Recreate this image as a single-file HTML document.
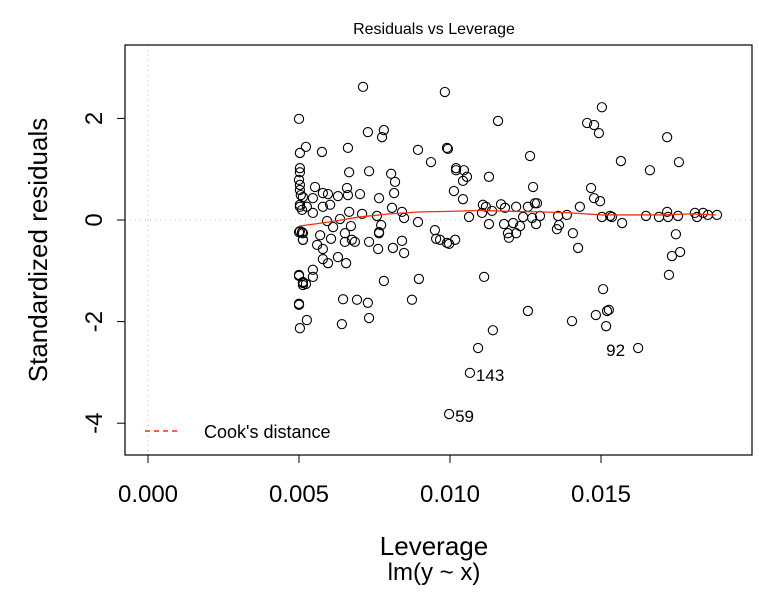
<!DOCTYPE html>
<html><head><meta charset="utf-8"><style>
body{margin:0;background:#fff;}
svg{display:block;font-family:"Liberation Sans",sans-serif;}
</style></head><body>
<svg id="chart" width="759" height="592" viewBox="0 0 759 592">
<text x="434" y="34" text-anchor="middle" font-size="16">Residuals vs Leverage</text>
<text transform="translate(47,250) rotate(-90)" text-anchor="middle" font-size="26">Standardized residuals</text>
<text x="434" y="555" text-anchor="middle" font-size="26">Leverage</text>
<text x="434" y="580" text-anchor="middle" font-size="24">lm(y ~ x)</text>
<g id="grid"></g><g id="axes"></g><g id="marks"></g>
<g>
<line x1="145" y1="431" x2="180" y2="431" stroke="#f03010" stroke-width="1.5" stroke-dasharray="5,4"/>
<text x="204" y="438" font-size="18">Cook's distance</text>
</g>
<rect x="125" y="45" width="627" height="410" fill="none" stroke="#000" stroke-width="1.2"/>
</svg>
<script>
// leverage in thousandths (x 1e-3)
const leverage=[5.00,5.03,5.03,5.03,5.03,5.06,5.03,5.10,5.03,5.10,5.13,5.00,5.00,5.03,5.13,5.23,
7.12,9.83,7.28,7.81,7.75,5.23,5.76,6.62,8.94,9.90,9.37,6.66,7.32,8.05,8.18,5.00,5.53,6.59,7.02,8.15,7.65,5.79,5.96,6.29,6.62,5.46,5.03,5.13,5.03,5.26,5.79,6.03,5.46,6.66,7.09,7.58,8.08,8.41,8.48,5.93,6.36,6.13,6.72,7.72,8.94,9.50,9.90,5.00,5.13,5.13,5.70,6.06,6.52,6.52,6.75,6.85,7.32,7.65,7.65,7.62,8.11,8.41,8.48,5.60,5.79,5.79,5.96,6.29,6.56,9.54,5.00,5.46,5.46,5.13,5.13,7.81,8.97,6.46,6.92,7.28,8.74,5.00,5.26,6.42,7.32,
11.59,15.03,14.54,14.77,14.93,9.93,12.65,10.20,10.20,10.46,10.56,10.43,11.29,12.75,10.13,10.43,14.67,14.77,14.97,11.09,11.19,11.69,11.82,12.19,12.58,12.81,12.88,14.30,10.63,11.06,11.39,11.29,11.79,12.09,12.42,12.72,12.98,12.85,12.32,13.58,13.87,13.61,13.54,14.07,14.24,15.03,11.92,12.19,11.95,9.67,9.97,10.17,11.13,15.07,12.58,14.04,14.83,15.20,15.17,11.42,
17.19,15.66,16.62,17.58,15.30,15.36,15.70,16.49,16.92,17.19,17.22,17.55,18.11,18.18,18.38,18.54,18.84,17.48,17.35,17.62,17.25,15.26,
10.93,10.66,9.97,16.23];
const residuals=[1.99,1.32,1.02,0.94,0.69,0.49,0.30,0.20,-0.22,-0.24,-0.39,-1.10,-1.65,-2.13,-1.24,-1.26,
2.62,2.52,1.73,1.77,1.63,1.44,1.34,1.42,1.38,1.42,1.14,0.94,0.96,0.91,0.75,0.79,0.65,0.63,0.51,0.53,0.43,0.53,0.51,0.47,0.49,0.43,0.59,0.45,0.26,0.26,0.26,0.30,0.14,0.16,0.12,0.08,0.24,0.16,0.04,-0.02,0.02,-0.14,-0.12,-0.10,-0.04,-0.20,-0.45,-0.24,-0.26,-0.39,-0.30,-0.37,-0.26,-0.43,-0.39,-0.43,-0.43,-0.24,-0.26,-0.57,-0.55,-0.41,-0.65,-0.49,-0.57,-0.77,-0.85,-0.73,-0.85,-0.37,-1.08,-0.98,-1.12,-1.22,-1.28,-1.20,-1.16,-1.56,-1.57,-1.63,-1.57,-1.67,-1.97,-2.05,-1.93,
1.95,2.22,1.91,1.87,1.71,1.40,1.26,1.02,0.98,0.98,0.85,0.77,0.85,0.65,0.57,0.41,0.63,0.43,0.37,0.30,0.26,0.31,0.24,0.26,0.26,0.33,0.33,0.26,0.06,0.14,0.18,-0.08,-0.08,-0.06,0.06,0.04,0.08,-0.08,-0.12,0.08,0.10,-0.10,-0.18,-0.26,-0.55,0.06,-0.26,-0.26,-0.35,-0.39,-0.47,-0.39,-1.12,-1.36,-1.79,-1.99,-1.87,-1.79,-2.09,-2.17,
1.63,1.16,0.98,1.14,0.08,0.06,-0.06,0.08,0.06,0.16,0.06,0.08,0.14,0.06,0.14,0.10,0.10,-0.28,-0.71,-0.63,-1.08,-1.77,
-2.52,-3.01,-3.82,-2.52];
const labelIdx=[leverage.length-3,leverage.length-2,leverage.length-1];
const labelText=["143","59","92"];
const smoothX=[5.0,6.0,7.0,8.0,9.0,10.0,11.0,12.0,13.0,14.0,15.0,16.0,17.0,18.0,18.8];
const smoothY=[-0.12,-0.04,0.06,0.12,0.16,0.17,0.19,0.17,0.16,0.14,0.10,0.10,0.10,0.12,0.10];
const xTicks=[0,5,10,15];
const xTickLabels=["0.000","0.005","0.010","0.015"];
const yTicks=[-4,-2,0,2];
const yTickLabels=["-4","-2","0","2"];

const NS="http://www.w3.org/2000/svg";
const X=v=>148+v*30.2;
const Y=v=>220-v*50.8;
function mk(tag,attrs,parent){const e=document.createElementNS(NS,tag);for(const k in attrs)e.setAttribute(k,attrs[k]);parent.appendChild(e);return e;}
const grid=document.getElementById('grid'),axes=document.getElementById('axes'),marks=document.getElementById('marks');
let g=mk('line',{x1:X(0),x2:X(0),y1:45,y2:455,stroke:'#bbb','stroke-dasharray':'1,4'},grid);


g=mk('line',{x1:125,x2:752,y1:Y(0),y2:Y(0),stroke:'#bbb','stroke-dasharray':'1,4'},grid);


xTicks.forEach((t,i)=>{
  const l=mk('line',{x1:X(t),x2:X(t),y1:455,y2:463,stroke:'#000'},axes);
  
  
  const tx=mk('text',{x:X(t),y:502,'text-anchor':'middle','font-size':24},axes);
  tx.textContent=xTickLabels[i];
  
  
});
yTicks.forEach((t,i)=>{
  const l=mk('line',{x1:117,x2:125,y1:Y(t),y2:Y(t),stroke:'#000'},axes);
  
  
  const tx=mk('text',{transform:`translate(102,${Y(t)}) rotate(-90)`,'text-anchor':'middle','font-size':24},axes);
  tx.textContent=yTickLabels[i];
  
  
});
leverage.forEach((v,i)=>{
  const c=mk('circle',{cx:X(v),cy:Y(residuals[i]),r:4.6,fill:'none',stroke:'#000','stroke-width':1.1},marks);
  
  
});
const sm=mk('polyline',{points:smoothX.map((v,i)=>X(v)+','+Y(smoothY[i])).join(' '),fill:'none',stroke:'#f03010','stroke-width':1.3},marks);


labelIdx.forEach((idx,k)=>{
  const t=mk('text',{x:X(leverage[idx])+6,y:Y(residuals[idx])+8,'font-size':17},marks);
  t.textContent=labelText[k];
  
  
});
// place 92 label to the left as in reference
marks.lastChild.setAttribute('x',X(leverage[labelIdx[2]])-32);
</script>
</body></html>
